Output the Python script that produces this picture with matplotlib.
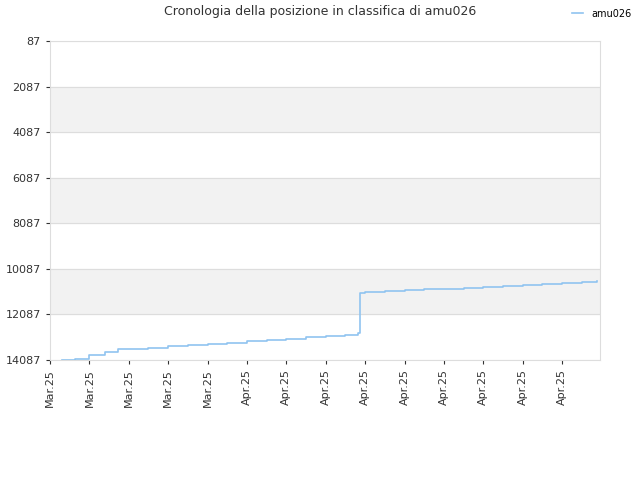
import matplotlib
matplotlib.use("Agg")
import matplotlib.pyplot as plt

x_pos = [0.30, 0.63, 1.0, 1.4, 1.73, 2.0, 2.5, 3.0, 3.5, 4.0, 4.5, 5.0, 5.5, 6.0, 6.5, 7.0, 7.5, 7.82, 7.87, 8.0, 8.5, 9.0, 9.5, 10.0, 10.5, 11.0, 11.5, 12.0, 12.5, 13.0, 13.5, 13.88]
ranks = [14087, 14030, 13870, 13730, 13620, 13590, 13540, 13490, 13440, 13390, 13330, 13270, 13210, 13150, 13090, 13030, 12970, 12900, 11140, 11110, 11070, 11030, 10990, 10950, 10910, 10870, 10830, 10800, 10760, 10720, 10680, 10600]
tick_labels = ["Mar.25"] * 5 + ["Apr.25"] * 9
y_ticks = [87, 2087, 4087, 6087, 8087, 10087, 12087, 14087]

fig = plt.figure(figsize=(6.4, 4.8), dpi=100)
ax = fig.add_axes([50/640, 1-360/480, 550/640, 319/480])
for i in range(len(y_ticks)-1):
    if i % 2 == 1:
        ax.axhspan(y_ticks[i], y_ticks[i+1], color="#f2f2f2", zorder=0)
ax.plot(x_pos, ranks, color="#90c4f0", lw=1.2, drawstyle="steps-post", label="amu026", zorder=3)
ax.set_ylim(14087, 87)
ax.set_yticks(y_ticks)
ax.set_xlim(0, 13.96)
ax.set_xticks(range(len(tick_labels)))
ax.set_xticklabels(tick_labels, rotation=90)
ax.tick_params(labelsize=8, colors="#333333", length=3)
ax.grid(axis="y", color="#dddddd", lw=0.8)
for s in ax.spines.values():
    s.set_color("#dddddd")
fig.text(0.5, 1-12/480, "Cronologia della posizione in classifica di amu026", ha="center", va="center", fontsize=9, color="#333333")
fig.legend(loc="upper right", bbox_to_anchor=(1.0, 1.0), frameon=False, fontsize=7, handlelength=1.2)
fig.savefig("out.png", dpi=100)
